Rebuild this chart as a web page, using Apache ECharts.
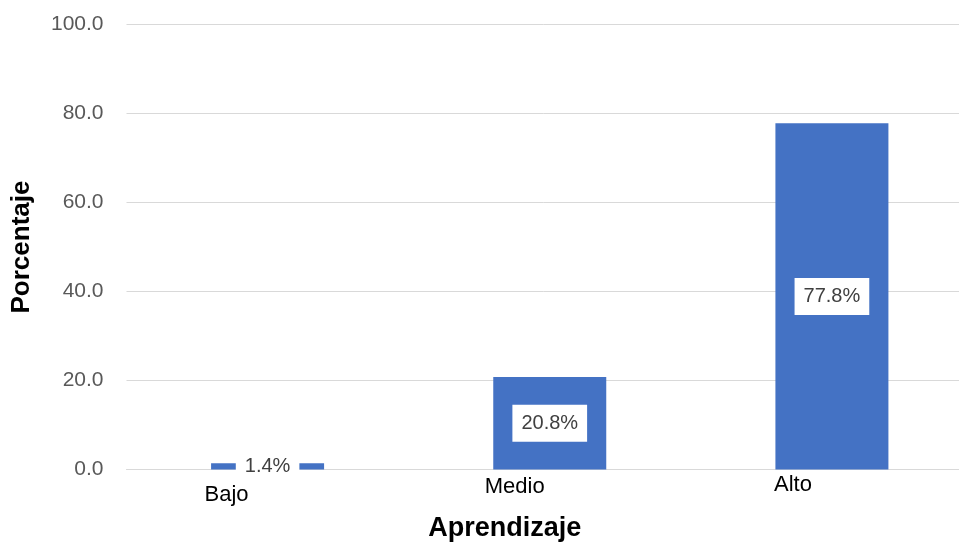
<!DOCTYPE html>
<html>
<head>
<meta charset="utf-8">
<script src="https://cdn.jsdelivr.net/npm/echarts@6/dist/echarts.min.js"></script>
<style>
  html, body { margin: 0; padding: 0; background: #fff; }
  #chart { width: 959px; height: 544px; }
</style>
</head>
<body>
<div id="chart"></div>
<script>
// Learning level categories and their share of respondents (%)
const categories = ['Bajo', 'Medio', 'Alto'];
const percentages = [1.4, 20.8, 77.8];
// Value axis range
const yMin = 0;
const yMax = 100;
const yStep = 20;

// Per-category label styles (Bajo sits a little lower than the others)
const labelKeys = ['bajo', 'medio', 'alto'];

const chart = echarts.init(document.getElementById('chart'), null, { renderer: 'canvas' });

const baseFont = 'Liberation Sans, Arial, sans-serif';

chart.setOption({
  animation: false,
  backgroundColor: '#ffffff',
  grid: {
    left: 126.5,
    top: 24.5,
    width: 846.5,
    height: 445,
    containLabel: false,
    outerBoundsMode: 'none'
  },
  xAxis: {
    type: 'category',
    data: categories,
    name: 'Aprendizaje',
    nameLocation: 'middle',
    nameGap: 46,
    nameTextStyle: {
      fontFamily: baseFont,
      fontWeight: 'bold',
      fontSize: 27,
      color: '#000000',
      padding: [0, 90, 0, 0]
    },
    axisLine: { show: true, lineStyle: { color: '#d9d9d9', width: 1 } },
    axisTick: { show: false },
    axisLabel: {
      margin: 4,
      interval: 0,
      formatter: function (value, idx) {
        return '{' + labelKeys[idx] + '|' + value + '}';
      },
      rich: {
        bajo: { fontFamily: baseFont, fontSize: 22, color: '#000000', padding: [10, 82, 0, 0] },
        medio: { fontFamily: baseFont, fontSize: 22, color: '#000000', padding: [2, 70, 0, 0] },
        alto: { fontFamily: baseFont, fontSize: 22, color: '#000000', padding: [0, 78, 0, 0] }
      }
    }
  },
  yAxis: {
    type: 'value',
    min: yMin,
    max: yMax,
    interval: yStep,
    name: 'Porcentaje',
    nameLocation: 'middle',
    nameRotate: 90,
    nameGap: 92,
    nameTextStyle: {
      fontFamily: baseFont,
      fontWeight: 'bold',
      fontSize: 26,
      color: '#000000'
    },
    axisLine: { show: false },
    axisTick: { show: false },
    axisLabel: {
      margin: 23,
      fontFamily: baseFont,
      fontSize: 21,
      color: '#595959',
      formatter: function (v) { return v.toFixed(1); }
    },
    splitLine: { show: true, lineStyle: { color: '#d9d9d9', width: 1 } }
  },
  series: [{
    type: 'bar',
    data: percentages,
    barWidth: 113,
    itemStyle: { color: '#4472C4' },
    label: {
      show: true,
      position: 'inside',
      formatter: function (p) { return p.value.toFixed(1) + '%'; },
      fontFamily: baseFont,
      fontSize: 20,
      color: '#404040',
      backgroundColor: '#ffffff',
      padding: [9, 9, 8, 9]
    }
  }]
});
</script>
</body>
</html>
